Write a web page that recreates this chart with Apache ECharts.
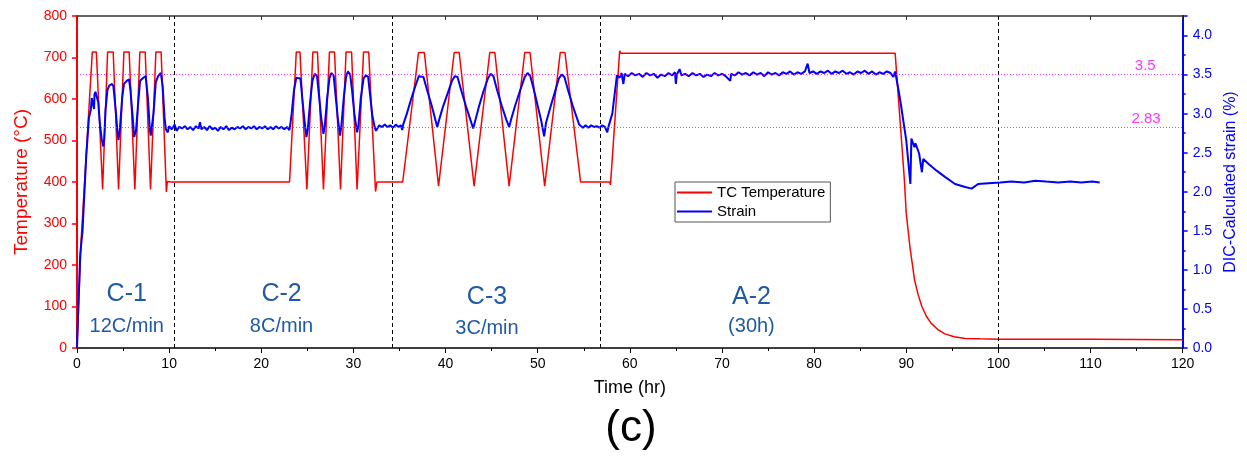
<!DOCTYPE html>
<html>
<head>
<meta charset="utf-8">
<script src="https://cdn.jsdelivr.net/npm/echarts@6/dist/echarts.min.js"></script>
<style>
html,body{margin:0;padding:0;background:#fff;}
#chart{width:1247px;height:456px;}
</style>
</head>
<body>
<div id="chart"></div>
<script>
// ---- Data ----
// Time in hours
var xTicks = [0, 10, 20, 30, 40, 50, 60, 70, 80, 90, 100, 110, 120];
var tempTicks = [0, 100, 200, 300, 400, 500, 600, 700, 800];
var strainTicks = [0.0, 0.5, 1.0, 1.5, 2.0, 2.5, 3.0, 3.5, 4.0];

// TC Temperature (°C) [time, temperature]
var temperature = [
  [0,0],[0.45,260],[1.66,713],[2.1,713],[2.78,382],[3.32,713],[3.93,713],[4.51,382],
  [5.09,713],[5.66,713],[6.28,382],[6.82,713],[7.4,713],[7.98,382],[8.56,713],[9.13,713],
  [9.7,376],[9.8,401],[9.9,398],[10.2,400],[23.07,400],
  [23.8,713],[24.2,713],[24.95,382],[25.6,713],[26.1,713],[26.75,382],[27.4,713],[27.95,713],
  [28.6,382],[29.2,713],[29.8,713],[30.4,382],[31.1,713],[31.66,713],[32.4,377],[32.55,400],
  [35.35,400],
  [37.07,712],[37.7,712],[39.24,390],[40.94,712],[41.48,712],[43.1,390],[44.8,712],[45.35,712],
  [46.9,390],[48.6,712],[49.17,712],[50.76,390],[52.45,712],[52.96,712],[54.66,400],
  [57.84,400],[57.9,393],[58.9,716],[59.0,710],[88.8,710],
  [89.8,405],[90.0,325],[90.4,244],[90.9,164],[91.3,128],[91.7,100],[92.2,76],[92.7,60],
  [93.4,45],[94.2,34],[95.2,27],[96.4,23],[98.0,22],[100,21],[110,21],[120,20]
];

// DIC-calculated strain (%) [time, strain]
var strainC1 = [
  [0,0],[0.15,0.55],[0.35,1.2],[0.6,1.5],[1.0,2.45],[1.3,2.95],[1.5,3.05],[1.6,3.2],[1.75,3.22],
  [1.85,3.06],[1.9,3.25],[2.0,3.28],[2.1,3.3],[2.3,3.15],[2.5,2.85],[2.7,2.66],[2.85,2.58],
  [2.95,2.68],[3.1,3.05],[3.3,3.3],[3.5,3.36],[3.8,3.38],[3.95,3.35],[4.2,3.05],[4.4,2.75],
  [4.5,2.66],[4.65,2.8],[4.9,3.2],[5.1,3.38],[5.4,3.42],[5.65,3.44],[5.8,3.3],[6.05,2.95],
  [6.2,2.70],[6.4,2.78],[6.65,3.15],[6.85,3.42],[7.2,3.46],[7.45,3.48],[7.7,3.2],[7.9,2.8],
  [8.0,2.72],[8.3,3.0],[8.55,3.4],[8.8,3.48],[9.1,3.52],[9.3,3.35],[9.5,2.95],[9.65,2.80]
];
var strainHold1 = [
  [9.85,2.76],[10.0,2.84],[10.3,2.80],[10.6,2.86],[10.8,2.78],[11.1,2.83],[11.4,2.81],[11.7,2.84],
  [12.0,2.80],[12.3,2.83],[12.6,2.79],[12.9,2.84],[13.2,2.81],[13.35,2.89],[13.5,2.80],[13.8,2.83],
  [14.1,2.79],[14.4,2.84],[14.7,2.80],[15.0,2.82],[15.3,2.78],[15.6,2.83],[15.9,2.80],[16.2,2.84],
  [16.5,2.79],[16.8,2.82],[17.1,2.80],[17.4,2.83],[17.7,2.81],[18.0,2.84],[18.3,2.80],[18.6,2.83],
  [18.9,2.81],[19.2,2.84],[19.5,2.80],[19.8,2.83],[20.1,2.81],[20.4,2.84],[20.7,2.80],[21.0,2.83],
  [21.3,2.80],[21.6,2.84],[21.9,2.81],[22.2,2.83],[22.5,2.80],[22.8,2.83],[23.05,2.79]
];
var strainC2 = [
  [23.1,2.82],[23.3,3.0],[23.55,3.3],[23.8,3.46],[24.0,3.48],[24.25,3.45],[24.45,3.2],[24.7,2.9],
  [24.9,2.70],[25.05,2.8],[25.3,3.15],[25.55,3.42],[25.8,3.51],[26.05,3.48],[26.25,3.25],[26.5,2.95],
  [26.75,2.74],[26.9,2.85],[27.15,3.2],[27.4,3.45],[27.6,3.52],[27.85,3.49],[28.05,3.25],[28.3,2.95],
  [28.55,2.72],[28.7,2.85],[28.95,3.2],[29.2,3.47],[29.4,3.54],[29.65,3.50],[29.85,3.3],[30.1,3.0],
  [30.4,2.76],[30.55,2.85],[30.8,3.2],[31.1,3.45],[31.35,3.49],[31.6,3.47],[31.8,3.25],[32.05,2.98],
  [32.3,2.83],[32.45,2.78]
];
var strainHold2 = [
  [32.6,2.80],[32.8,2.85],[33.1,2.83],[33.4,2.86],[33.7,2.83],[34.0,2.85],[34.3,2.82],[34.6,2.86],
  [34.9,2.83],[35.15,2.85],[35.3,2.79]
];
var strainC3 = [
  [35.4,2.86],[35.8,3.0],[36.3,3.2],[36.8,3.38],[37.1,3.48],[37.3,3.50],[37.6,3.47],[38.0,3.3],
  [38.5,3.1],[38.9,2.92],[39.1,2.83],[39.3,2.92],[39.7,3.08],[40.2,3.25],[40.7,3.42],[41.0,3.48],
  [41.3,3.47],[41.7,3.3],[42.2,3.1],[42.7,2.92],[43.0,2.81],[43.2,2.9],[43.6,3.08],[44.1,3.28],
  [44.6,3.45],[44.9,3.51],[45.2,3.48],[45.6,3.3],[46.1,3.1],[46.6,2.92],[46.9,2.83],[47.1,2.92],
  [47.6,3.12],[48.1,3.3],[48.6,3.47],[48.9,3.52],[49.2,3.48],[49.6,3.3],[50.0,3.1],[50.4,2.9],
  [50.7,2.71],[50.9,2.88],[51.3,3.05],[51.8,3.25],[52.3,3.45],[52.6,3.50],[52.9,3.47],[53.3,3.3],
  [53.8,3.1],[54.3,2.93],[54.5,2.86]
];
var strainHold3 = [
  [54.7,2.84],[54.9,2.82],[55.2,2.85],[55.5,2.82],[55.8,2.85],[56.1,2.83],[56.4,2.84],[56.7,2.82],
  [57.0,2.85],[57.3,2.83],[57.55,2.76],[57.7,2.84],[57.8,2.83]
];
var strainA2 = [
  [58.1,3.0],[58.6,3.49],[58.9,3.46],[59.1,3.52],[59.3,3.38],[59.45,3.51],[59.8,3.48],[60.2,3.52],
  [60.6,3.49],[61.0,3.51],[61.4,3.47],[61.8,3.52],[62.2,3.49],[62.6,3.51],[63.0,3.46],[63.4,3.50],
  [63.8,3.48],[64.2,3.52],[64.6,3.49],[64.9,3.53],[65.0,3.38],[65.1,3.50],[65.4,3.57],[65.6,3.49],
  [66.0,3.51],[66.4,3.48],[66.8,3.52],[67.2,3.49],[67.6,3.51],[68.0,3.47],[68.4,3.50],[68.8,3.48],
  [69.2,3.52],[69.6,3.49],[70.0,3.51],[70.4,3.48],[70.9,3.42],[71.0,3.51],[71.4,3.49],[71.8,3.53],
  [72.2,3.50],[72.6,3.52],[73.0,3.49],[73.4,3.53],[73.8,3.50],[74.2,3.52],[74.6,3.48],[75.0,3.53],
  [75.4,3.50],[75.8,3.52],[76.2,3.49],[76.6,3.53],[77.0,3.51],[77.4,3.54],[77.8,3.50],[78.2,3.53],
  [78.6,3.51],[79.0,3.54],[79.3,3.64],[79.5,3.52],[79.9,3.54],[80.3,3.51],[80.7,3.54],[81.1,3.52],
  [81.5,3.55],[81.9,3.51],[82.3,3.54],[82.7,3.52],[83.1,3.55],[83.5,3.51],[83.9,3.53],[84.3,3.50],
  [84.7,3.54],[85.1,3.52],[85.5,3.55],[85.9,3.51],[86.3,3.54],[86.7,3.50],[87.1,3.53],[87.5,3.51],
  [87.9,3.54],[88.3,3.52],[88.6,3.47],[88.8,3.54]
];
var strainCool = [
  [89.3,3.21],[90.0,2.66],[90.45,2.10],[90.56,2.68],[90.9,2.57],[91.0,2.62],[91.4,2.49],[91.7,2.25],
  [91.85,2.42],[92.4,2.36],[93.3,2.27],[94.2,2.19],[95.3,2.10],[96.4,2.06],[97.1,2.04],[97.8,2.10],
  [98.9,2.11],[100.2,2.12],[101.4,2.13],[102.8,2.12],[104.0,2.14],[105.2,2.13],[106.5,2.12],
  [107.8,2.13],[109.0,2.12],[110.2,2.13],[111.0,2.12]
];

var phaseLines = [10.6, 34.2, 56.8, 100];
var strainRefs = [3.5, 2.83];
var phaseLabels = [
  {t: 5.4,  v: 130, text: 'C-1', big: true},
  {t: 5.4,  v: 51,  text: '12C/min', big: false},
  {t: 22.2, v: 130, text: 'C-2', big: true},
  {t: 22.2, v: 51,  text: '8C/min', big: false},
  {t: 44.5, v: 123, text: 'C-3', big: true},
  {t: 44.5, v: 46,  text: '3C/min', big: false},
  {t: 73.2, v: 123, text: 'A-2', big: true},
  {t: 73.2, v: 51,  text: '(30h)', big: false}
];

var strain = [].concat(strainC1, strainHold1, strainC2, strainHold2, strainC3, strainHold3, strainA2, strainCool);

var FONT = 'Liberation Sans, Arial, sans-serif';
var RED = '#ff0000';
var BLUE = '#0000ff';
var ANN = '#1f5aa8';
var MAG = '#ff00ff';

var chart = echarts.init(document.getElementById('chart'), null, {renderer: 'canvas'});
chart.setOption({
  animation: false,
  backgroundColor: '#fff',
  textStyle: {fontFamily: FONT},
  grid: {left: 77, right: 62, top: 16, bottom: 108, containLabel: false},
  legend: {
    orient: 'vertical', left: 675, top: 182,
    padding: [3, 5, 3, 1], itemGap: 4, itemWidth: 35, itemHeight: 14,
    borderColor: '#555', borderWidth: 1,
    itemStyle: {opacity: 0},
    textStyle: {fontSize: 15, color: '#000', fontFamily: FONT},
    data: ['TC Temperature', 'Strain']
  },
  xAxis: [{
    type: 'value', min: 0, max: 120, interval: 10, position: 'bottom',
    name: 'Time (hr)', nameLocation: 'middle', nameGap: 31,
    nameTextStyle: {fontSize: 18, color: '#000', fontFamily: FONT},
    axisLine: {show: true, onZero: false, lineStyle: {color: '#000', width: 1.5}},
    axisTick: {show: true, inside: false, length: 5, lineStyle: {color: '#000'}},
    minorTick: {show: true, splitNumber: 2, length: 3, lineStyle: {color: '#000'}},
    axisLabel: {fontSize: 14, color: '#000', margin: 9,
      formatter: function (v) { return xTicks.indexOf(v) >= 0 ? String(v) : ''; }},
    splitLine: {show: false}
  }, {
    type: 'value', min: 0, max: 120, interval: 10, position: 'top',
    axisLine: {show: true, onZero: false, lineStyle: {color: '#333', width: 1.5}},
    axisTick: {show: true, inside: true, length: 4, lineStyle: {color: '#333'}},
    minorTick: {show: false},
    axisLabel: {show: false},
    splitLine: {show: false}
  }],
  yAxis: [{
    type: 'value', min: 0, max: 800, interval: 100, position: 'left',
    name: 'Temperature (°C)', nameLocation: 'middle', nameGap: 46,
    nameTextStyle: {fontSize: 19, color: RED, fontFamily: FONT},
    axisLine: {show: true, onZero: false, lineStyle: {color: RED, width: 2}},
    axisTick: {show: true, inside: false, length: 5, lineStyle: {color: RED, width: 1.5}},
    axisLabel: {fontSize: 14, color: RED, margin: 10,
      formatter: function (v) { return tempTicks.indexOf(v) >= 0 ? String(v) : ''; }},
    splitLine: {show: false}
  }, {
    type: 'value', min: 0, max: 4.25, interval: 0.5, position: 'right',
    name: 'DIC-Calculated strain (%)', nameLocation: 'middle', nameGap: 33,
    nameTextStyle: {fontSize: 16, color: BLUE, fontFamily: FONT},
    axisLine: {show: true, onZero: false, lineStyle: {color: BLUE, width: 2}},
    axisTick: {show: true, inside: false, length: 5, lineStyle: {color: BLUE, width: 1.5}},
    minorTick: {show: true, splitNumber: 2, length: 3, lineStyle: {color: BLUE, width: 1.5}},
    axisLabel: {fontSize: 14, color: BLUE, margin: 10, showMaxLabel: false,
      formatter: function (v) {
        for (var i = 0; i < strainTicks.length; i++) {
          if (Math.abs(strainTicks[i] - v) < 1e-6) return strainTicks[i].toFixed(1);
        }
        return '';
      }},
    splitLine: {show: false}
  }],
  series: [{
    name: 'TC Temperature', type: 'line', xAxisIndex: 0, yAxisIndex: 0,
    data: temperature, symbol: 'none', smooth: false,
    lineStyle: {color: RED, width: 1.5}, itemStyle: {color: RED},
    z: 2,
    markLine: {
      silent: true, symbol: ['none', 'none'],
      lineStyle: {color: '#000', type: [4, 3], width: 1},
      label: {show: false},
      data: phaseLines.map(function (x) { return {xAxis: x}; })
    },
    markPoint: {
      silent: true, symbol: 'circle', symbolSize: 0,
      itemStyle: {color: 'transparent'},
      data: phaseLabels.map(function (p) {
        return {
          coord: [p.t, p.v], value: p.text,
          label: {show: true, position: 'inside', formatter: p.text,
            fontSize: p.big ? 25 : 20, color: ANN, fontFamily: FONT}
        };
      })
    }
  }, {
    name: 'Strain', type: 'line', xAxisIndex: 0, yAxisIndex: 1,
    data: strain, symbol: 'none', smooth: false,
    lineStyle: {color: BLUE, width: 2}, itemStyle: {color: BLUE},
    z: 3,
    markLine: {
      silent: true, symbol: ['none', 'none'],
      lineStyle: {color: MAG, type: [1, 2], width: 1, opacity: 0.8},
      data: strainRefs.map(function (y) {
        return {yAxis: y, label: {show: true, formatter: String(y), position: 'insideEndTop',
          color: MAG, fontSize: 15, fontFamily: FONT, distance: [y === 3.5 ? 27 : 22, 1]}};
      })
    }
  }],
  graphic: [{
    type: 'text', x: 631, y: 407,
    style: {text: '(c)', fontSize: 44, fill: '#000', textAlign: 'center', fontFamily: FONT}
  }]
});
</script>
</body>
</html>
